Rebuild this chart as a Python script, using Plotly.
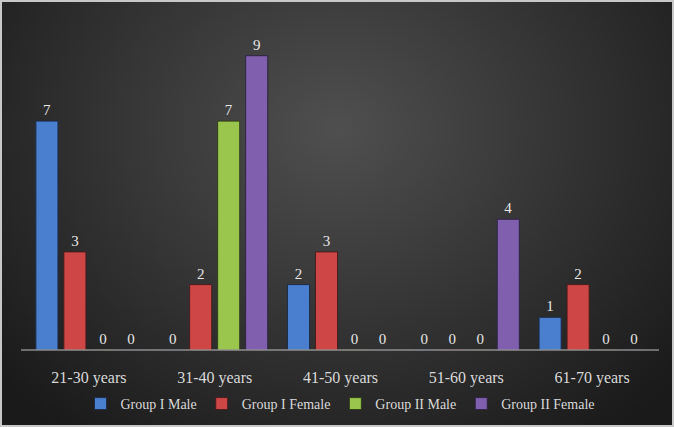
import base64, struct, zlib
import numpy as np
import plotly.graph_objects as go

categories = ["21-30 years", "31-40 years", "41-50 years", "51-60 years", "61-70 years"]
series_names = ["Group I Male", "Group I Female", "Group II Male", "Group II Female"]
g1_male = [7, 0, 2, 0, 1]
g1_female = [3, 2, 3, 0, 2]
g2_male = [0, 7, 0, 0, 0]
g2_female = [0, 9, 0, 4, 0]
colors = ["#4a7fcf", "#cf4646", "#9bc64e", "#7f5fae"]
outlines = ["#1d2c47", "#4a1c1c", "#2f3d1a", "#2e2442"]

L, R, T, B = 26, 19, 23, 77
PW, PH = 674 - L - R, 427 - T - B

# radial-gradient background as an inline PNG
W, H = 168, 107
yy, xx = np.mgrid[0:H, 0:W]
nx, ny = xx / (W - 1), yy / (H - 1)
d = np.sqrt(((nx - 0.5) / 0.62) ** 2 + ((ny - 0.3) / 0.85) ** 2)
v = np.clip(80 - 50 * d, 26, 80).astype(np.uint8)
rows = b"".join(b"\x00" + bytes(np.repeat(v[r], 3)) for r in range(H))
def chunk(t, data):
    c = struct.pack(">I", len(data)) + t + data
    return c + struct.pack(">I", zlib.crc32(t + data) & 0xffffffff)
png = b"\x89PNG\r\n\x1a\n" + chunk(b"IHDR", struct.pack(">IIBBBBB", W, H, 8, 2, 0, 0, 0)) \
      + chunk(b"IDAT", zlib.compress(rows, 9)) + chunk(b"IEND", b"")
bg_src = "data:image/png;base64," + base64.b64encode(png).decode()

fig = go.Figure()
for name, vals, col, oc in zip(series_names, [g1_male, g1_female, g2_male, g2_female], colors, outlines):
    fig.add_trace(go.Bar(
        x=categories, y=vals, name=name,
        marker=dict(color=col, line=dict(color=oc, width=1)),
        text=[str(v_) for v_ in vals], textposition="outside",
        textfont=dict(family="Liberation Serif", size=15, color="#e6e6e6"),
        cliponaxis=False,
    ))

fig.update_layout(
    width=674, height=427,
    margin=dict(l=L, r=R, t=T, b=B, autoexpand=False),
    paper_bgcolor="#262626", plot_bgcolor="rgba(0,0,0,0)",
    barmode="group", bargap=0.11, bargroupgap=0.21,
    showlegend=True,
    legend=dict(orientation="h", x=0.5, xanchor="center",
                yref="container", y=1 - 404/427, yanchor="middle",
                font=dict(family="Liberation Serif", size=14, color="#d9d9d9"),
                bgcolor="rgba(0,0,0,0)", itemwidth=30, tracegroupgap=0),
    images=[dict(source=bg_src, xref="paper", yref="paper", x=-L/PW, y=1+T/PH,
                 sizex=674/PW, sizey=427/PH, xanchor="left", yanchor="top",
                 sizing="stretch", layer="below")],
    shapes=[
        dict(type="rect", xref="paper", yref="paper",
             x0=-L/PW + 1/PW, x1=1 + R/PW - 1/PW, y0=-B/PH + 1/PH, y1=1 + T/PH - 1/PH,
             line=dict(color="#c8c8c8", width=2)),
        dict(type="line", xref="paper", yref="paper",
             x0=(21 - L)/PW, x1=(659 - L)/PW, y0=0, y1=0,
             line=dict(color="#bfbfbf", width=1)),
    ],
)
fig.update_xaxes(showline=False, showgrid=False, automargin=False,
                 ticks="outside", ticklen=13, tickcolor="rgba(0,0,0,0)",
                 tickfont=dict(family="Liberation Serif", size=16, color="#d9d9d9"))
fig.update_yaxes(range=[0, 10], visible=False, showgrid=False, zeroline=False)

fig.write_html("out.html")
